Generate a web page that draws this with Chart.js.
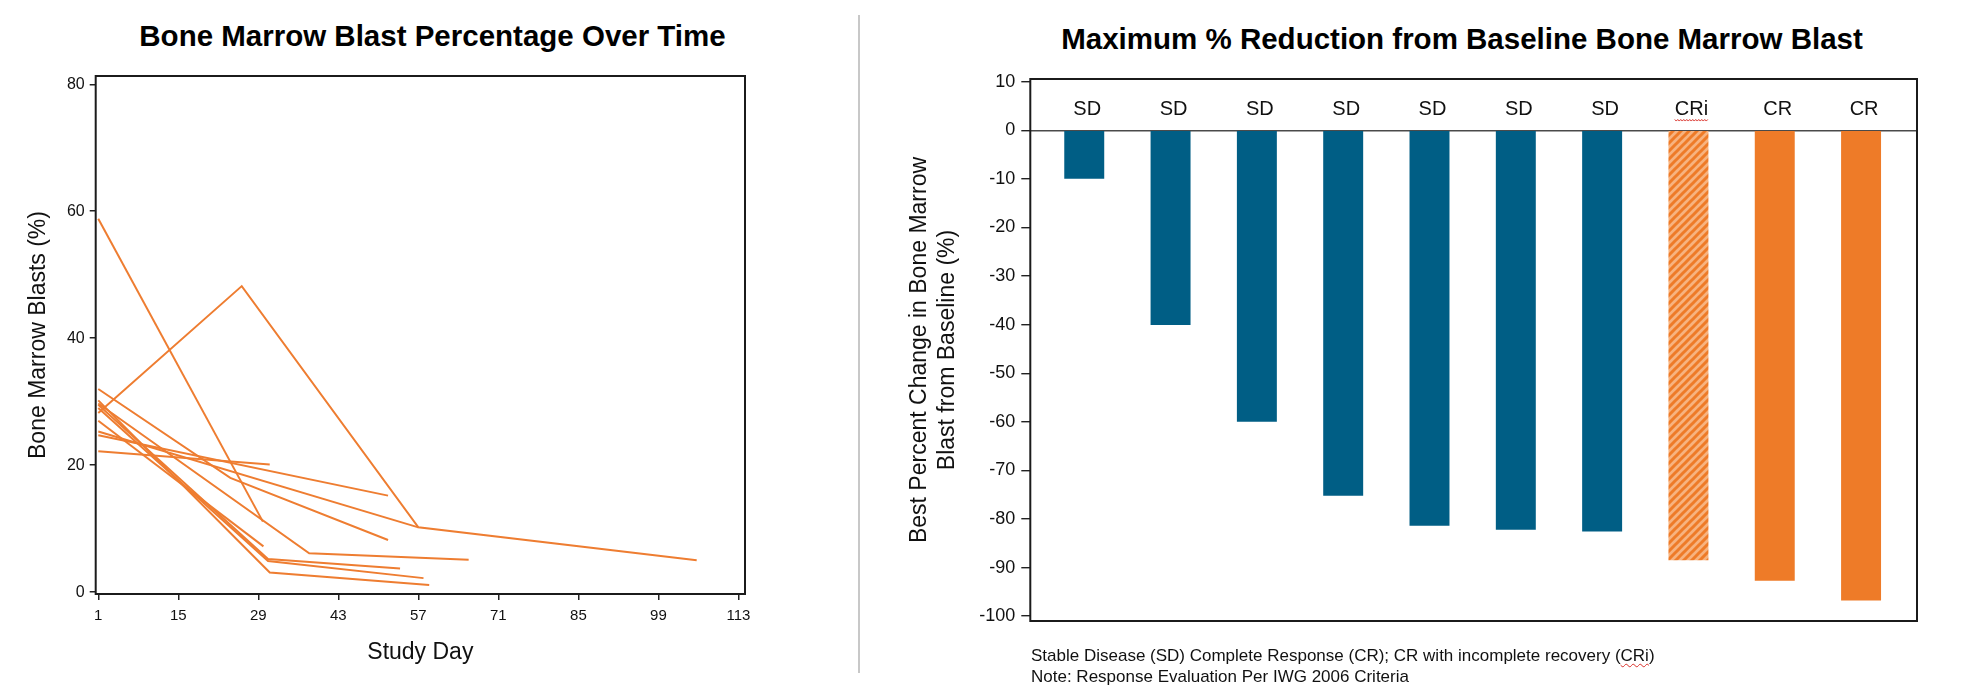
<!DOCTYPE html>
<html>
<head>
<meta charset="utf-8">
<script src="https://cdn.jsdelivr.net/npm/chart.js@4.4.1/dist/chart.umd.min.js"></script>
<style>
  html, body { margin: 0; padding: 0; background: #fff; }
  body { width: 1961px; height: 693px; position: relative; overflow: hidden;
         font-family: 'Liberation Sans', Arial, sans-serif; color: #111; }
  canvas { position: absolute; top: 0; }
  #left { left: 0; }
  #right { left: 860px; }
  .ttl { position: absolute; font-weight: bold; font-size: 29.5px; line-height: 29.5px;
         white-space: nowrap; transform: translateX(-50%); color: #000; }
  #divider { position: absolute; left: 857.5px; top: 15px; width: 2px; height: 658px; background: #c8c8c8; }
  #note { position: absolute; left: 1031px; top: 645px; font-size: 17px; line-height: 21px; white-space: nowrap; color: #111; }
  .squig { text-decoration: underline wavy #d9302a; text-decoration-thickness: 1px; text-underline-offset: 2px; }
</style>
</head>
<body>
<div class="ttl" style="left:432.5px;top:20.6px">Bone Marrow Blast Percentage Over Time</div>
<div class="ttl" style="left:1462px;top:24px">Maximum % Reduction from Baseline Bone Marrow Blast</div>
<div id="divider"></div>
<canvas id="left" width="860" height="693"></canvas>
<canvas id="right" width="1101" height="693"></canvas>
<div id="note">Stable Disease (SD) Complete Response (CR); CR with incomplete recovery (<span class="squig">CRi</span>)<br>Note: Response Evaluation Per IWG 2006 Criteria</div>
<script>
// 左圖：每位病人的骨髓原始細胞 (study day / %)
const patientDays = [
  [1, 29.8],
  [1, 26.1, 57, 105.7],
  [1, 57],
  [1, 51.7],
  [1, 31],
  [1, 24.1, 51.7],
  [1, 37.9, 65.8],
  [1, 29.9],
  [1, 30.7, 53.8],
  [1, 30.7, 57.9],
  [1, 31, 58.9]
];
const patientBlasts = [
  [58.8, 11.1],
  [28.2, 48.2, 10.2, 5.0],
  [25.3, 10.2],
  [24.7, 15.2],
  [22.2, 20.1],
  [32.0, 18.0, 8.2],
  [29.7, 6.1, 5.1],
  [27.0, 7.2],
  [29.5, 5.2, 3.7],
  [29.0, 4.9, 2.2],
  [30.2, 3.1, 1.1]
];
const dayTicks = [1, 15, 29, 43, 57, 71, 85, 99, 113];
const blastTicks = [0, 20, 40, 60, 80];

// 右圖：最大降幅
const responses = ['SD', 'SD', 'SD', 'SD', 'SD', 'SD', 'SD', 'CRi', 'CR', 'CR'];
const bestChange = [-10.0, -40.1, -60.0, -75.2, -81.4, -82.2, -82.6, -88.5, -92.7, -96.8];
const changeTicks = [10, 0, -10, -20, -30, -40, -50, -60, -70, -80, -90, -100];

const FONT = "'Liberation Sans', Arial, sans-serif";
const ORANGE = '#EE7B28';
const LINE_ORANGE = '#EE7D31';
const LIGHT_ORANGE = '#F7B37F';
const BLUE = '#005E85';

// 斜線填色 (CRi)
function makeHatch() {
  const c = document.createElement('canvas');
  c.width = 8; c.height = 8;
  const g = c.getContext('2d');
  g.fillStyle = LIGHT_ORANGE;
  g.fillRect(0, 0, 8, 8);
  g.strokeStyle = ORANGE;
  g.lineWidth = 3;
  g.beginPath();
  g.moveTo(-2, 10); g.lineTo(10, -2);
  g.moveTo(-2, 2); g.lineTo(2, -2);
  g.moveTo(6, 10); g.lineTo(10, 6);
  g.stroke();
  return g.createPattern(c, 'repeat');
}
const hatch = makeHatch();

// 外框
const frame = {
  id: 'frame',
  afterDatasetsDraw(chart) {
    const { ctx, chartArea: a } = chart;
    ctx.save();
    ctx.strokeStyle = '#1b1b1b';
    ctx.lineWidth = 2;
    ctx.strokeRect(a.left, a.top, a.right - a.left, a.bottom - a.top);
    ctx.restore();
  }
};

// 長條上方的反應標籤
const responseLabels = {
  id: 'responseLabels',
  afterDatasetsDraw(chart) {
    const { ctx, scales: { x, y } } = chart;
    const yy = y.getPixelForValue(0) - 21;
    ctx.save();
    ctx.font = '20px ' + FONT;
    ctx.fillStyle = '#111';
    ctx.textAlign = 'center';
    ctx.textBaseline = 'middle';
    responses.forEach((r, i) => {
      const xx = x.getPixelForValue(i) + 3;
      ctx.fillText(r, xx, yy);
      if (r === 'CRi') {
        const w = ctx.measureText(r).width;
        ctx.strokeStyle = '#d9302a';
        ctx.lineWidth = 1;
        ctx.beginPath();
        let up = true;
        for (let px = xx - w / 2; px <= xx + w / 2; px += 1.5) {
          const py = yy + 11 + (up ? -0.8 : 0.8);
          if (px === xx - w / 2) ctx.moveTo(px, py); else ctx.lineTo(px, py);
          up = !up;
        }
        ctx.stroke();
      }
    });
    ctx.restore();
  }
};

new Chart(document.getElementById('left'), {
  type: 'line',
  data: {
    datasets: patientDays.map((days, i) => ({
      data: days.map((d, j) => ({ x: d, y: patientBlasts[i][j] })),
      borderColor: LINE_ORANGE,
      borderWidth: 2,
      pointRadius: 0,
      fill: false,
      tension: 0
    }))
  },
  options: {
    responsive: false,
    animation: false,
    layout: { padding: { left: 0, right: 115, top: 76, bottom: 0 } },
    plugins: { legend: { display: false }, tooltip: { enabled: false } },
    scales: {
      x: {
        type: 'linear', min: 0.55, max: 114.15, offset: false,
        afterBuildTicks: ax => { ax.ticks = dayTicks.map(v => ({ value: v })); },
        afterFit: ax => { ax.height = 99; },
        ticks: { font: { family: FONT, size: 15 }, color: '#111', padding: 7, maxRotation: 0, autoSkip: false,
                 callback: v => String(v) },
        grid: { drawOnChartArea: false, drawTicks: true, tickLength: 6, color: '#222', lineWidth: 1.5 },
        border: { display: false },
        title: { display: true, text: 'Study Day', font: { family: FONT, size: 23 }, color: '#111',
                 padding: { top: 0, bottom: 26.8 } }
      },
      y: {
        min: -0.3, max: 81.3,
        afterBuildTicks: ax => { ax.ticks = blastTicks.map(v => ({ value: v })); },
        afterFit: ax => { ax.width = 95.7; },
        ticks: { font: { family: FONT, size: 16 }, color: '#111', padding: 5, autoSkip: false,
                 callback: v => String(v) },
        grid: { drawOnChartArea: false, drawTicks: true, tickLength: 6, color: '#222', lineWidth: 1.5 },
        border: { display: false },
        title: { display: true, text: 'Bone Marrow Blasts (%)', font: { family: FONT, size: 23 }, color: '#111',
                 padding: { top: 24.5, bottom: 0 } }
      }
    }
  },
  plugins: [frame]
});

new Chart(document.getElementById('right'), {
  type: 'bar',
  data: {
    datasets: [{
      data: bestChange.map((v, i) => ({ x: i, y: v })),
      backgroundColor: responses.map(r => r === 'SD' ? BLUE : (r === 'CRi' ? hatch : ORANGE)),
      borderWidth: 0,
      barPercentage: 1,
      categoryPercentage: 0.463
    }]
  },
  options: {
    responsive: false,
    animation: false,
    layout: { padding: { left: 0, right: 44, top: 79, bottom: 72 } },
    plugins: { legend: { display: false }, tooltip: { enabled: false } },
    scales: {
      x: { type: 'linear', display: false, offset: false, min: -0.625, max: 9.648 },
      y: {
        min: -101, max: 10.55,
        afterBuildTicks: ax => { ax.ticks = changeTicks.map(v => ({ value: v })); },
        afterFit: ax => { ax.width = 170.3; },
        ticks: { font: { family: FONT, size: 18 }, color: '#111', padding: 6, autoSkip: false,
                 callback: v => String(v) },
        grid: {
          color: c => (c.tick && c.tick.value === 0) ? '#4a4a4a' : 'rgba(0,0,0,0)',
          tickColor: '#222', tickLength: 9, lineWidth: 1.4, drawTicks: true
        },
        border: { display: false },
        title: { display: true, text: ['Best Percent Change in Bone Marrow', 'Blast from Baseline (%)'],
                 font: { family: FONT, size: 23 }, color: '#111', padding: { top: 45.9, bottom: 0 } }
      }
    }
  },
  plugins: [frame, responseLabels]
});
</script>
</body>
</html>
